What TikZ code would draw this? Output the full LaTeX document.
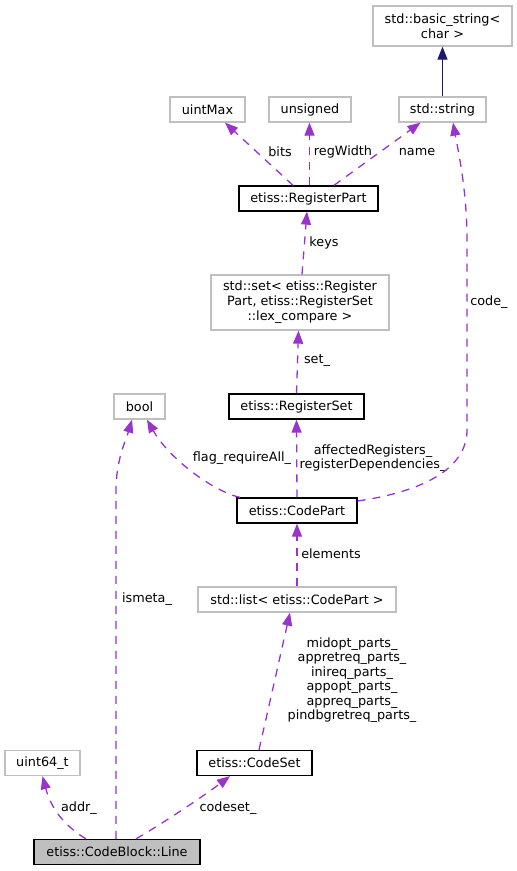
\documentclass[tikz,border=0pt]{standalone}
\usepackage{fontspec}
\setmainfont{DejaVu Sans}
\usetikzlibrary{arrows.meta}
\definecolor{depcol}{HTML}{9A32CD}
\definecolor{inhcol}{HTML}{191970}
\definecolor{extgray}{HTML}{BFBFBF}
\begin{document}
\begin{tikzpicture}[x=1pt,y=-1pt,
  font=\fontsize{12.8}{15}\selectfont,
  box/.style={rectangle, inner sep=0pt, minimum height=25pt, align=center},
  cls/.style={box, draw=black, line width=1.3pt},
  ext/.style={box, draw=extgray, line width=1.3pt},
  root/.style={cls, fill=extgray},
  tip/.style={-{Triangle[length=13pt,width=10pt]}},
  dep/.style={tip, draw=depcol, line width=1.3pt, dash pattern=on 8pt off 7pt},
  inh/.style={tip, draw=inhcol, line width=1.3pt},
  lbl/.style={inner sep=0pt, align=center, font=\fontsize{12.8}{14.5}\selectfont}
]
\useasboundingbox (0,0) rectangle (517,871);

% classes and types
\node[ext, minimum width=139pt, minimum height=40pt] (bstr) at (442.5,26) {std::basic\_string<\\char >};
\node[ext, minimum width=87pt]  (str)      at (442.5,109.5) {std::string};
\node[ext, minimum width=75pt]  (uintmax)  at (207.5,109.5) {uintMax};
\node[ext, minimum width=82pt]  (unsig)    at (310,109.5)   {unsigned};
\node[cls, minimum width=139pt] (rpart)    at (308.5,198.5) {etiss::RegisterPart};
\node[ext, minimum width=178pt, minimum height=55pt] (rset_t) at (300,302.5)
  {std::set< etiss::Register\\Part, etiss::RegisterSet\\::lex\_compare >};
\node[ext, minimum width=51pt]  (bool)     at (139.5,406.5) {bool};
\node[cls, minimum width=135pt] (rset)     at (296.5,406.5) {etiss::RegisterSet};
\node[cls, minimum width=120pt] (cpart)    at (297,510.5)   {etiss::CodePart};
\node[ext, minimum width=198pt] (plist)    at (297,599.5)   {std::list< etiss::CodePart >};
\node[ext, minimum width=75pt]  (u64)      at (42.5,763)    {uint64\_t};
\node[cls, minimum width=115pt] (cset)     at (254.5,763)   {etiss::CodeSet};
\node[root, minimum width=166pt] (line)    at (117,852)     {etiss::CodeBlock::Line};

% inheritance
\draw[inh] (str.north) -- (bstr.south);

% members of RegisterPart
\draw[dep] ([xshift=-15.5pt]rpart.north) -- ([xshift=17.5pt]uintmax.south);
\draw[dep] ([xshift=1pt]rpart.north) -- ([xshift=-0.5pt]unsig.south);
\draw[dep] ([xshift=25.5pt]rpart.north) -- ([xshift=-22pt]str.south);
\node[lbl] (lbits) at (280,152) {bits};
\node[lbl] (lwidth) at (343,152) {regWidth};
\node[lbl] (lname) at (417,152) {name};

% set of register parts
\draw[dep] ([xshift=2pt]rset_t.north) -- ([xshift=-1.5pt]rpart.south);
\node[lbl] (lkeys) at (324,243) {keys};
\draw[dep] (rset.north) -- ([xshift=-1.5pt]rset_t.south);
\node[lbl] (lset) at (317,361) {set\_};

% members of CodePart
\draw[dep] (cpart.north) -- (rset.south);
\node[lbl] (laff) at (373,458) {affectedRegisters\_\\registerDependencies\_};
\draw[dep] ([xshift=-57pt]cpart.north) .. controls (215,492) and (170,460) .. ([xshift=7.5pt]bool.south);
\node[lbl] (lflag) at (242,458) {flag\_requireAll\_};
\draw[dep] ([yshift=9.5pt]cpart.east) .. controls (420,492) and (467,470) .. (467,430)
  -- (467,240) .. controls (467,190) and (458,150) .. ([xshift=10.5pt]str.south);
\node[lbl] (lcode) at (489,302) {code\_};

% list of code parts
\draw[dep] (plist.north) -- (cpart.south);
\node[lbl] (lelem) at (331,554) {elements};
\draw[dep] ([xshift=4.5pt]cset.north) -- ([xshift=-7pt]plist.south);
\node[lbl] (lparts) at (352,680) {midopt\_parts\_\\appretreq\_parts\_\\inireq\_parts\_\\appopt\_parts\_\\appreq\_parts\_\\pindbgretreq\_parts\_};

% members of CodeBlock::Line
\draw[dep] ([xshift=-31pt]line.north) .. controls (68,828) and (52,812) .. (u64.south);
\node[lbl] (laddr) at (79,808) {addr\_};
\draw[dep] ([xshift=-1pt]line.north) -- (116,490) .. controls (116,460) and (126,440) .. ([xshift=-7.5pt]bool.south);
\node[lbl] (lmeta) at (147,599) {ismeta\_};
\draw[dep] ([xshift=19pt]line.north) .. controls (165,822) and (205,795) .. ([xshift=-24.5pt]cset.south);
\node[lbl] (lcset) at (228,808) {codeset\_};
\end{tikzpicture}
\end{document}
